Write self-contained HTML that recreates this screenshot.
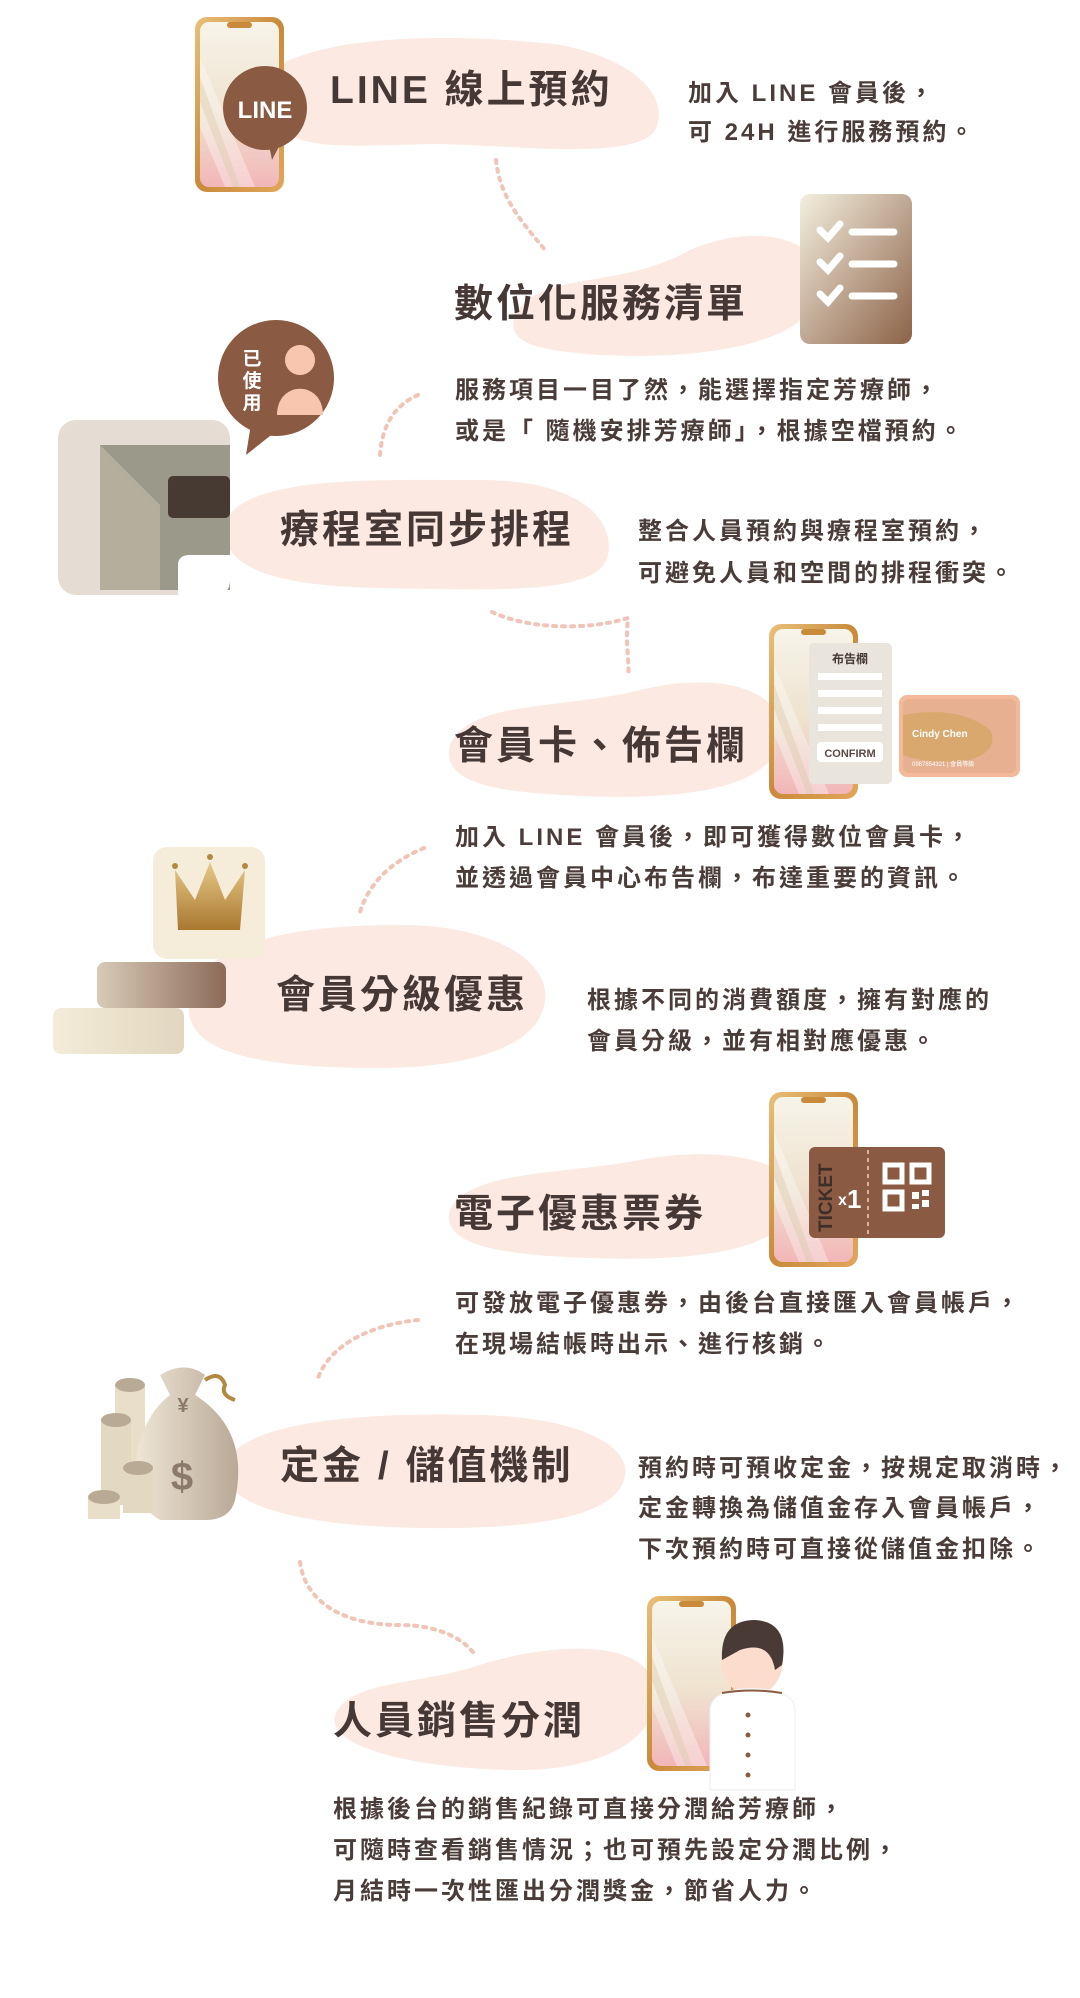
<!DOCTYPE html>
<html><head><meta charset="utf-8"><style>
html,body{margin:0;padding:0;background:#fff;}
svg{display:block}
.t{font-family:"Liberation Sans","Noto Sans CJK TC",sans-serif;font-weight:bold;fill:#463835;font-size:39px;letter-spacing:3px}
.d{font-family:"Liberation Sans","Noto Sans CJK TC",sans-serif;font-weight:bold;fill:#4a3c38;font-size:24px;letter-spacing:3px}
</style></head><body>
<svg width="1080" height="1998" viewBox="0 0 1080 1998" xmlns="http://www.w3.org/2000/svg">
<defs>
<linearGradient id="gold" x1="0" y1="0" x2="1" y2="1"><stop offset="0" stop-color="#e9c07a"/><stop offset="0.5" stop-color="#c98a3a"/><stop offset="1" stop-color="#e2a75a"/></linearGradient>
<linearGradient id="scr" x1="0" y1="0" x2="0" y2="1"><stop offset="0" stop-color="#f7f4ea"/><stop offset="0.55" stop-color="#efe2cf"/><stop offset="1" stop-color="#f2b6b8"/></linearGradient>
<linearGradient id="chk" x1="0" y1="0" x2="1" y2="1"><stop offset="0" stop-color="#f4efdf"/><stop offset="1" stop-color="#8c6248"/></linearGradient>
<linearGradient id="crown" x1="0" y1="0" x2="0" y2="1"><stop offset="0" stop-color="#e7c98a"/><stop offset="1" stop-color="#a9782f"/></linearGradient>
<linearGradient id="bar" x1="0" y1="0" x2="1" y2="0"><stop offset="0" stop-color="#d8cbb8"/><stop offset="1" stop-color="#8c6a58"/></linearGradient>
<linearGradient id="bar2" x1="0" y1="0" x2="1" y2="0"><stop offset="0" stop-color="#f3ecd8"/><stop offset="1" stop-color="#e2d6bf"/></linearGradient>
<linearGradient id="bag" x1="0" y1="0" x2="1" y2="0"><stop offset="0" stop-color="#efe6d6"/><stop offset="1" stop-color="#b9a896"/></linearGradient>
<g id="phone">
<rect x="0" y="0" width="89" height="175" rx="12" fill="url(#gold)"/>
<rect x="5" y="5" width="79" height="165" rx="9" fill="url(#scr)"/>
<path d="M5 40 L60 170 L30 170 L5 110Z" fill="#fff" opacity="0.35"/>
<path d="M5 60 L45 170 L38 170 L5 85Z" fill="#d9c9a8" opacity="0.4"/>
<rect x="32" y="5" width="25" height="6" rx="3" fill="#c98a3a"/>
</g>
</defs>
<g fill="#fbe9e2">
<path d="M272 70 C330 30 480 35 560 45 C640 60 670 100 655 130 C640 155 560 150 470 145 C380 140 300 160 272 120Z"/>
<path d="M515 315 C540 270 620 290 690 250 C760 220 830 240 820 290 C810 345 700 360 600 355 C540 350 505 345 515 315Z"/>
<path d="M226 520 C250 475 380 480 480 480 C580 480 615 520 608 555 C600 595 500 590 380 588 C280 586 215 570 226 520Z"/>
<path d="M450 745 C470 700 560 710 640 690 C720 670 790 690 780 740 C770 790 680 800 580 796 C500 792 440 785 450 745Z"/>
<path d="M190 1000 C200 940 300 925 400 925 C500 925 550 965 545 1000 C540 1050 460 1070 360 1068 C250 1066 180 1050 190 1000Z"/>
<path d="M450 1210 C470 1170 560 1175 640 1160 C720 1145 800 1160 795 1200 C790 1250 700 1262 590 1258 C500 1255 440 1245 450 1210Z"/>
<path d="M226 1465 C240 1420 370 1412 480 1415 C590 1418 630 1450 625 1475 C620 1515 540 1530 420 1528 C300 1526 215 1505 226 1465Z"/>
<path d="M335 1715 C350 1680 420 1685 480 1665 C560 1640 650 1640 655 1690 C660 1740 600 1770 520 1770 C430 1770 325 1750 335 1715Z"/>
</g>
<g fill="none" stroke="#f0c4b6" stroke-width="4" stroke-dasharray="3 6" stroke-linecap="round">
<path d="M496 160 C500 200 525 225 545 250"/>
<path d="M418 395 C395 405 382 425 380 455"/>
<path d="M492 612 C530 630 590 630 628 618 C625 645 630 665 628 675"/>
<path d="M424 848 C395 860 370 880 360 912"/>
<path d="M418 1320 C370 1325 330 1345 318 1378"/>
<path d="M300 1562 C305 1600 340 1625 400 1625 C440 1625 465 1640 475 1655"/>
</g>
<use href="#phone" x="195" y="17"/>
<circle cx="265" cy="108" r="42" fill="#8b5a42"/>
<path d="M268 140 L272 160 L285 135Z" fill="#8b5a42"/>
<text x="265" y="118" text-anchor="middle" font-family="Liberation Sans,sans-serif" font-weight="bold" font-size="24" fill="#fff">LINE</text>
<rect x="800" y="194" width="112" height="150" rx="10" fill="url(#chk)"/>
<g stroke="#fff" stroke-width="7" stroke-linecap="round" fill="none">
<path d="M820 230 l8 8 l12 -14"/><path d="M820 262 l8 8 l12 -14"/><path d="M820 294 l8 8 l12 -14"/>
<path d="M852 232 h42"/><path d="M852 264 h42"/><path d="M852 296 h42"/>
</g>
<circle cx="276" cy="378" r="58" fill="#8b5a42"/>
<path d="M250 430 L246 455 L275 432Z" fill="#8b5a42"/>
<circle cx="300" cy="360" r="15" fill="#f8c6ae"/>
<path d="M277 415 C277 380 323 380 323 415Z" fill="#f8c6ae"/>
<text x="252" y="365" text-anchor="middle" font-family="Noto Sans CJK TC,sans-serif" font-weight="bold" font-size="19" fill="#fff">已</text>
<text x="252" y="387" text-anchor="middle" font-family="Noto Sans CJK TC,sans-serif" font-weight="bold" font-size="19" fill="#fff">使</text>
<text x="252" y="409" text-anchor="middle" font-family="Noto Sans CJK TC,sans-serif" font-weight="bold" font-size="19" fill="#fff">用</text>
<rect x="58" y="420" width="172" height="175" rx="18" fill="#e5ddd4"/>
<path d="M100 445 L230 445 L230 590 L160 590 L160 540 Q160 500 100 475Z" fill="#9b998a"/>
<path d="M100 445 L160 505 L160 590 L100 590Z" fill="#b4ae9c"/>
<rect x="168" y="476" width="62" height="42" rx="5" fill="#473a33"/>
<path d="M178 595 L178 565 Q178 555 190 555 L230 555 L230 580 Q230 595 215 595Z" fill="#fff"/>
<use href="#phone" x="769" y="624"/>
<rect x="809" y="643" width="83" height="141" rx="5" fill="#e9e4dc"/>
<text x="850" y="663" text-anchor="middle" font-family="Noto Sans CJK TC,sans-serif" font-weight="bold" font-size="12" fill="#463835">布告欄</text>
<g fill="#fff"><rect x="818" y="673" width="64" height="7"/><rect x="818" y="690" width="64" height="7"/><rect x="818" y="707" width="64" height="7"/><rect x="818" y="724" width="64" height="7"/></g>
<rect x="817" y="742" width="66" height="20" rx="4" fill="#fff"/>
<text x="850" y="757" text-anchor="middle" font-family="Liberation Sans,sans-serif" font-weight="bold" font-size="11" fill="#5a4a44">CONFIRM</text>
<rect x="899" y="695" width="121" height="82" rx="8" fill="#f4b99a"/>
<rect x="903" y="699" width="113" height="74" rx="6" fill="#e7b090"/>
<path d="M903 715 Q960 705 990 730 Q1000 750 970 760 Q930 765 903 755Z" fill="#d9a86e"/>
<text x="912" y="737" font-family="Liberation Sans,sans-serif" font-weight="bold" font-size="10" fill="#fff">Cindy Chen</text>
<text x="912" y="766" font-family="Liberation Sans,sans-serif" font-size="6" fill="#fff">0987654321 | 會員等級</text>
<rect x="153" y="847" width="112" height="112" rx="14" fill="#f5ecd9"/>
<path d="M178 930 L175 870 L195 900 L210 862 L225 900 L245 870 L240 930Z" fill="url(#crown)"/>
<circle cx="175" cy="866" r="3" fill="#b08a40"/><circle cx="210" cy="857" r="3" fill="#b08a40"/><circle cx="245" cy="866" r="3" fill="#b08a40"/>
<rect x="97" y="962" width="129" height="46" rx="8" fill="url(#bar)"/>
<rect x="53" y="1008" width="131" height="46" rx="8" fill="url(#bar2)"/>
<use href="#phone" x="769" y="1092"/>
<rect x="809" y="1147" width="136" height="91" rx="6" fill="#8b5a42"/>
<path d="M868 1150 v85" stroke="#d8b59e" stroke-width="2" stroke-dasharray="4 4"/>
<text transform="translate(832 1232) rotate(-90)" font-family="Liberation Sans,sans-serif" font-weight="bold" font-size="19" fill="#3d2e28">TICKET</text>
<text x="838" y="1205" font-family="Liberation Sans,sans-serif" font-weight="bold" font-size="16" fill="#fff">x</text>
<text x="847" y="1208" font-family="Liberation Sans,sans-serif" font-weight="bold" font-size="26" fill="#fff">1</text>
<g fill="none" stroke="#fff" stroke-width="5"><rect x="885" y="1165" width="17" height="17"/><rect x="912" y="1165" width="17" height="17"/><rect x="885" y="1192" width="17" height="17"/></g>
<g fill="#fff"><rect x="912" y="1192" width="7" height="7"/><rect x="922" y="1200" width="7" height="7"/><rect x="912" y="1204" width="7" height="5"/><rect x="922" y="1190" width="7" height="6"/></g>
<rect x="115" y="1385" width="30" height="90" fill="#e9dfc8"/><ellipse cx="130" cy="1385" rx="15" ry="7" fill="#b9aa95"/>
<rect x="101" y="1420" width="30" height="85" fill="#e3d8c0"/><ellipse cx="116" cy="1420" rx="15" ry="7" fill="#b9aa95"/>
<path d="M160 1375 Q185 1360 205 1375 L195 1395 Q250 1430 235 1500 Q230 1520 205 1520 L160 1520 Q125 1500 140 1440 Q150 1410 170 1395Z" fill="url(#bag)"/>
<path d="M205 1380 q15 -10 20 5 q-5 10 10 15" stroke="#b08a40" stroke-width="4" fill="none"/>
<text x="182" y="1490" text-anchor="middle" font-family="Liberation Sans,sans-serif" font-weight="bold" font-size="40" fill="#8b7a6c">$</text>
<text x="183" y="1412" text-anchor="middle" font-family="Liberation Sans,sans-serif" font-weight="bold" font-size="20" fill="#8b7a6c">¥</text>
<rect x="123" y="1468" width="30" height="45" fill="#e3d8c0"/><ellipse cx="138" cy="1468" rx="15" ry="7" fill="#b9aa95"/>
<rect x="88" y="1497" width="32" height="22" fill="#e9dfc8"/><ellipse cx="104" cy="1497" rx="16" ry="7" fill="#b9aa95"/>
<use href="#phone" x="647" y="1596"/>
<ellipse cx="752" cy="1660" rx="31" ry="36" fill="#fbdccd"/>
<path d="M722 1660 Q720 1620 755 1620 Q790 1622 782 1665 L775 1670 Q770 1640 740 1650Z" fill="#4a3a36"/>
<path d="M710 1790 L710 1710 Q710 1690 752 1688 Q795 1690 795 1710 L795 1790Z" fill="#fff" stroke="#eee"/>
<path d="M722 1693 Q752 1688 782 1693" stroke="#8b5a42" stroke-width="2" fill="none"/>
<g fill="#8b5a42"><circle cx="748" cy="1715" r="2.5"/><circle cx="748" cy="1735" r="2.5"/><circle cx="748" cy="1755" r="2.5"/><circle cx="748" cy="1775" r="2.5"/></g>
<text class="t" x="330" y="103">LINE 線上預約</text>
<text class="t" x="454" y="317">數位化服務清單</text>
<text class="t" x="280" y="543">療程室同步排程</text>
<text class="t" x="454" y="759">會員卡、佈告欄</text>
<text class="t" x="276" y="1008">會員分級優惠</text>
<text class="t" x="454" y="1227">電子優惠票券</text>
<text class="t" x="280" y="1479">定金 / 儲值機制</text>
<text class="t" x="333" y="1734">人員銷售分潤</text>
<text class="d" x="688" y="101">加入 LINE 會員後，</text>
<text class="d" x="688" y="140">可 24H 進行服務預約。</text>
<text class="d" x="455" y="398">服務項目一目了然，能選擇指定芳療師，</text>
<text class="d" x="455" y="439">或是「 隨機安排芳療師」，根據空檔預約。</text>
<text class="d" x="638" y="539">整合人員預約與療程室預約，</text>
<text class="d" x="638" y="581">可避免人員和空間的排程衝突。</text>
<text class="d" x="455" y="845">加入 LINE 會員後，即可獲得數位會員卡，</text>
<text class="d" x="455" y="886">並透過會員中心布告欄，布達重要的資訊。</text>
<text class="d" x="587" y="1008">根據不同的消費額度，擁有對應的</text>
<text class="d" x="587" y="1049">會員分級，並有相對應優惠。</text>
<text class="d" x="455" y="1311">可發放電子優惠券，由後台直接匯入會員帳戶，</text>
<text class="d" x="455" y="1352">在現場結帳時出示、進行核銷。</text>
<text class="d" x="638" y="1476">預約時可預收定金，按規定取消時，</text>
<text class="d" x="638" y="1516">定金轉換為儲值金存入會員帳戶，</text>
<text class="d" x="638" y="1557">下次預約時可直接從儲值金扣除。</text>
<text class="d" x="333" y="1817">根據後台的銷售紀錄可直接分潤給芳療師，</text>
<text class="d" x="333" y="1858">可隨時查看銷售情況；也可預先設定分潤比例，</text>
<text class="d" x="333" y="1899">月結時一次性匯出分潤獎金，節省人力。</text>
</svg>
</body></html>
